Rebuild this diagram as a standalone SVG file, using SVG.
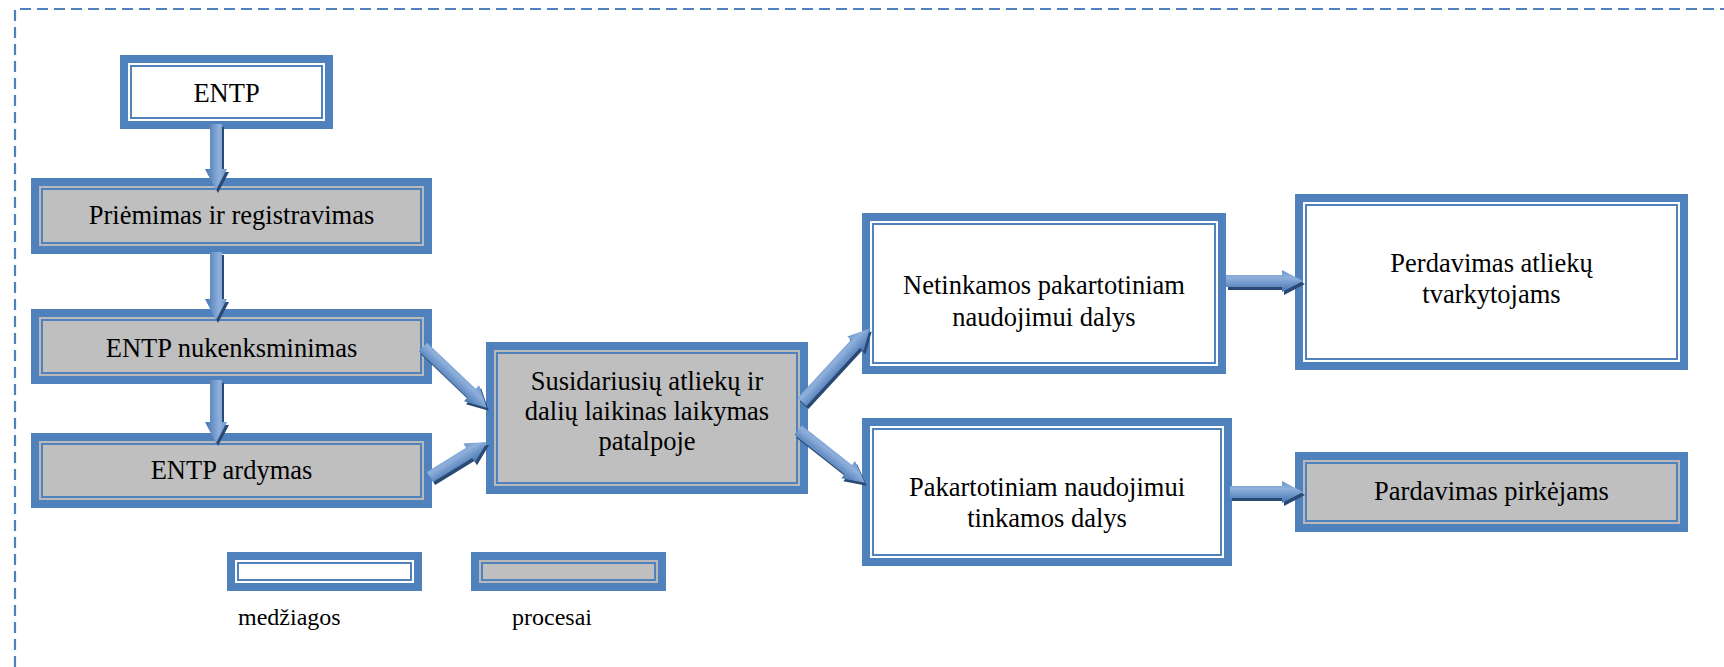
<svg xmlns="http://www.w3.org/2000/svg" width="1724" height="667" viewBox="0 0 1724 667">
<style>
.frame{fill:none;stroke:#4f81bd;stroke-width:2.2;stroke-dasharray:11 6}
.outer{fill:#4f81bd}
.gapm{fill:#ffffff}
.gapp{fill:#b9b9b9}
.innm{fill:#ffffff;stroke:#4f81bd;stroke-width:2}
.innp{fill:#bfbfbf;stroke:#4f81bd;stroke-width:2}
.t{font-size:26.5px;fill:#000;text-anchor:middle}
.leg{font-size:24px;fill:#000;text-anchor:start}
.arr{fill:url(#ag)}
.sh{fill:#2a4a74}
</style>
<defs>
<linearGradient id="ag" x1="0" y1="0" x2="0" y2="1">
<stop offset="0" stop-color="#6b95cc"/>
<stop offset="0.35" stop-color="#8fb0dc"/>
<stop offset="1" stop-color="#4473b0"/>
</linearGradient>
</defs>
<rect width="1724" height="667" fill="#ffffff"/>
<path class="frame" d="M15,667 V9 H1724"/>

<g font-family="'Liberation Serif', 'Times New Roman', 'DejaVu Serif', serif">
<g id="n-entp">
<rect class="outer" x="120" y="55" width="213" height="74"/>
<rect class="gapm" x="128" y="63" width="197" height="58"/>
<rect class="innm" x="131" y="66" width="191" height="52"/>
<text class="t" x="226.5" y="102">ENTP</text>
</g>
<g id="n-priemimas">
<rect class="outer" x="31" y="178" width="401" height="76"/>
<rect class="gapp" x="39" y="186" width="385" height="60"/>
<rect class="innp" x="42" y="189" width="379" height="54"/>
<text class="t" x="231.5" y="224">Priėmimas ir registravimas</text>
</g>
<g id="n-nukenksminimas">
<rect class="outer" x="31" y="309" width="401" height="75"/>
<rect class="gapp" x="39" y="317" width="385" height="59"/>
<rect class="innp" x="42" y="320" width="379" height="53"/>
<text class="t" x="231.5" y="357">ENTP nukenksminimas</text>
</g>
<g id="n-ardymas">
<rect class="outer" x="31" y="433" width="401" height="75"/>
<rect class="gapp" x="39" y="441" width="385" height="59"/>
<rect class="innp" x="42" y="444" width="379" height="53"/>
<text class="t" x="231.5" y="479">ENTP ardymas</text>
</g>
<g id="n-laikymas">
<rect class="outer" x="486" y="342" width="322" height="152"/>
<rect class="gapp" x="494" y="350" width="306" height="136"/>
<rect class="innp" x="497" y="353" width="300" height="130"/>
<text class="t" x="647" y="390">Susidariusių atliekų ir</text>
<text class="t" x="647" y="420">dalių laikinas laikymas</text>
<text class="t" x="647" y="450">patalpoje</text>
</g>
<g id="n-netinkamos">
<rect class="outer" x="862" y="213" width="364" height="161"/>
<rect class="gapm" x="870" y="221" width="348" height="145"/>
<rect class="innm" x="873" y="224" width="342" height="139"/>
<text class="t" x="1044" y="294">Netinkamos pakartotiniam</text>
<text class="t" x="1044" y="326">naudojimui dalys</text>
</g>
<g id="n-pakartotiniam">
<rect class="outer" x="862" y="418" width="370" height="148"/>
<rect class="gapm" x="870" y="426" width="354" height="132"/>
<rect class="innm" x="873" y="429" width="348" height="126"/>
<text class="t" x="1047" y="496">Pakartotiniam naudojimui</text>
<text class="t" x="1047" y="527">tinkamos dalys</text>
</g>
<g id="n-perdavimas">
<rect class="outer" x="1295" y="194" width="393" height="176"/>
<rect class="gapm" x="1303" y="202" width="377" height="160"/>
<rect class="innm" x="1306" y="205" width="371" height="154"/>
<text class="t" x="1491.5" y="272">Perdavimas atliekų</text>
<text class="t" x="1491.5" y="303">tvarkytojams</text>
</g>
<g id="n-pardavimas">
<rect class="outer" x="1295" y="452" width="393" height="80"/>
<rect class="gapp" x="1303" y="460" width="377" height="64"/>
<rect class="innp" x="1306" y="463" width="371" height="58"/>
<text class="t" x="1491.5" y="500">Pardavimas pirkėjams</text>
</g>
<g id="legend-medziagos">
<rect class="outer" x="227" y="552" width="195" height="39"/>
<rect class="gapm" x="235" y="560" width="179" height="23"/>
<rect class="innm" x="238" y="563" width="173" height="17"/>
<text class="leg" x="238" y="625">medžiagos</text>
</g>
<g id="legend-procesai">
<rect class="outer" x="471" y="552" width="195" height="39"/>
<rect class="gapp" x="479" y="560" width="179" height="23"/>
<rect class="innp" x="482" y="563" width="173" height="17"/>
<text class="leg" x="512" y="625">procesai</text>
</g>
</g>

<g id="connectors">
<g transform="translate(2,3)">
<polygon class="sh" transform="translate(216,124) rotate(90)" points="0,-6 45,-6 45,-11 66,0 45,11 45,6 0,6"/>
<polygon class="sh" transform="translate(216,252) rotate(90)" points="0,-6 47,-6 47,-11 68,0 47,11 47,6 0,6"/>
<polygon class="sh" transform="translate(216,380) rotate(90)" points="0,-6 42,-6 42,-11 63,0 42,11 42,6 0,6"/>
<polygon class="sh" transform="translate(423,347) rotate(43.6)" points="0,-6 67,-6 67,-11 88,0 67,11 67,6 0,6"/>
<polygon class="sh" transform="translate(430,477) rotate(-31.5)" points="0,-6 46,-6 46,-11 67,0 46,11 46,6 0,6"/>
<polygon class="sh" transform="translate(802,402) rotate(-47.4)" points="0,-6 79,-6 79,-11 100,0 79,11 79,6 0,6"/>
<polygon class="sh" transform="translate(798,430) rotate(38.3)" points="0,-6 64,-6 64,-11 85,0 64,11 64,6 0,6"/>
<polygon class="sh" transform="translate(1226,281)" points="0,-6 56,-6 56,-11 77,0 56,11 56,6 0,6"/>
<polygon class="sh" transform="translate(1230,492)" points="0,-6 52,-6 52,-11 73,0 52,11 52,6 0,6"/>
</g>
<polygon class="arr" transform="translate(216,124) rotate(90)" points="0,-6 45,-6 45,-11 66,0 45,11 45,6 0,6"/>
<polygon class="arr" transform="translate(216,252) rotate(90)" points="0,-6 47,-6 47,-11 68,0 47,11 47,6 0,6"/>
<polygon class="arr" transform="translate(216,380) rotate(90)" points="0,-6 42,-6 42,-11 63,0 42,11 42,6 0,6"/>
<polygon class="arr" transform="translate(423,347) rotate(43.6)" points="0,-6 67,-6 67,-11 88,0 67,11 67,6 0,6"/>
<polygon class="arr" transform="translate(430,477) rotate(-31.5)" points="0,-6 46,-6 46,-11 67,0 46,11 46,6 0,6"/>
<polygon class="arr" transform="translate(802,402) rotate(-47.4)" points="0,-6 79,-6 79,-11 100,0 79,11 79,6 0,6"/>
<polygon class="arr" transform="translate(798,430) rotate(38.3)" points="0,-6 64,-6 64,-11 85,0 64,11 64,6 0,6"/>
<polygon class="arr" transform="translate(1226,281)" points="0,-6 56,-6 56,-11 77,0 56,11 56,6 0,6"/>
<polygon class="arr" transform="translate(1230,492)" points="0,-6 52,-6 52,-11 73,0 52,11 52,6 0,6"/>
</g>
</svg>
